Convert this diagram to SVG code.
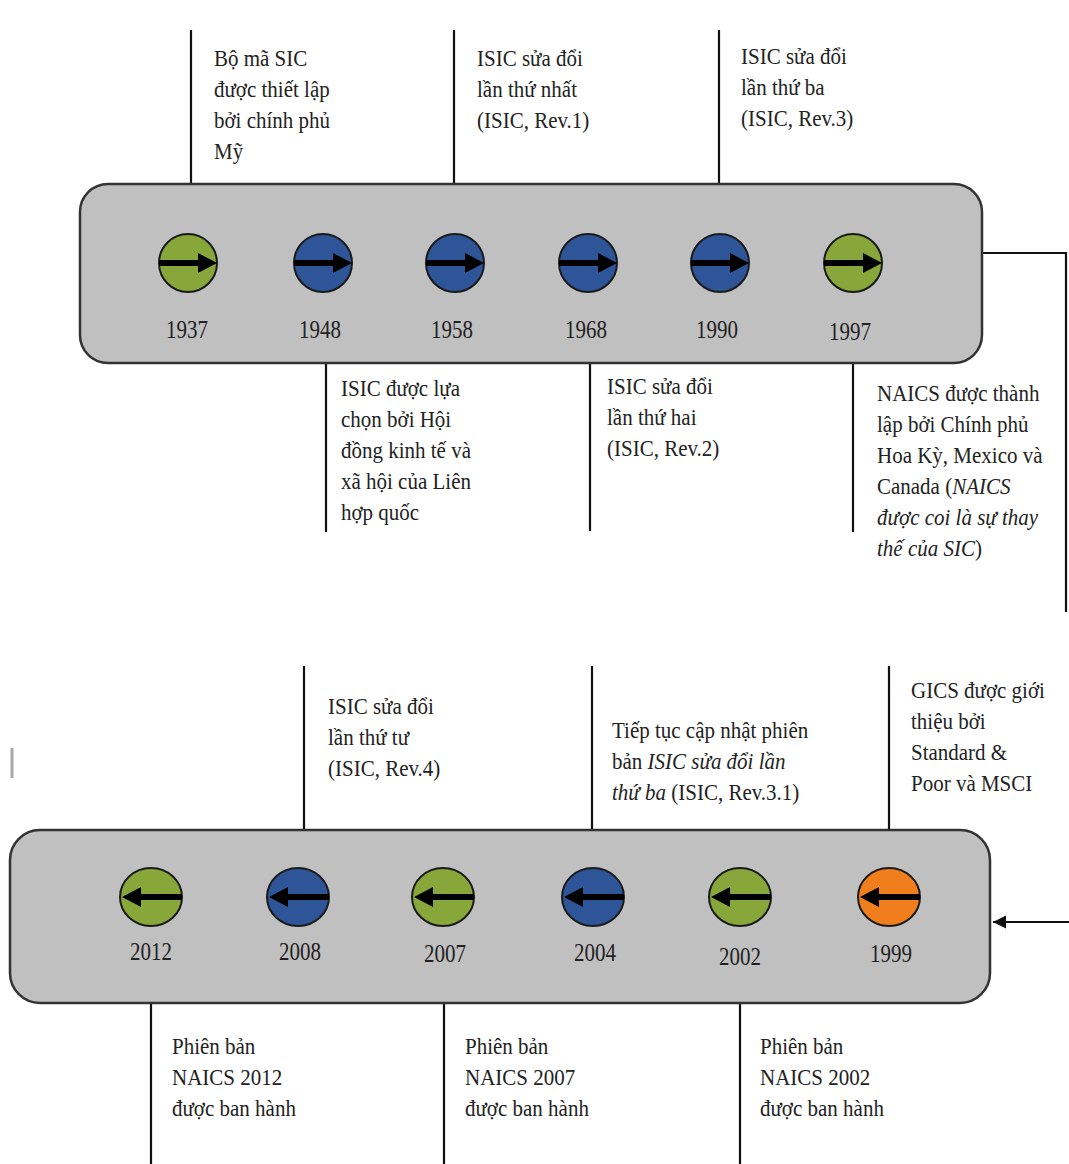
<svg xmlns="http://www.w3.org/2000/svg" width="1069" height="1164" viewBox="0 0 1069 1164">
<style>
.bg{fill:#ffffff}
.box{fill:#c0c0c0;stroke:#333333;stroke-width:2.5}
.ln{stroke:#111111;stroke-width:2.2;fill:none}
.t{font-family:"Liberation Serif","Times New Roman",serif;font-size:21px;fill:#222222}
.yr{font-family:"Liberation Serif","Times New Roman",serif;font-size:21px;fill:#222222;text-anchor:middle}
.i{font-style:italic}
.g{fill:#87a73b;stroke:#1a1a1a;stroke-width:2}
.b{fill:#2e5597;stroke:#1a1a1a;stroke-width:2}
.o{fill:#f07e1c;stroke:#1a1a1a;stroke-width:2}
</style>
<defs>
<g id="arrR"><rect x="-29" y="-3" width="42" height="6" fill="#000"/><polygon points="10,-10 29,0 10,10" fill="#000"/></g>
<g id="arrL"><rect x="-14" y="-3" width="45" height="6" fill="#000"/><polygon points="-10,-10 -29,0 -10,10" fill="#000"/></g>
<marker id="ah" viewBox="0 0 10 10" refX="10" refY="5" markerWidth="6" markerHeight="6" orient="auto-start-reverse"><path d="M0,0 L10,5 L0,10 z" fill="#111"/></marker>
</defs>
<rect class="bg" x="0" y="0" width="1069" height="1164"/>

<g id="connectors">
<line class="ln" x1="191" y1="30" x2="191" y2="184"/>
<line class="ln" x1="454" y1="30" x2="454" y2="184"/>
<line class="ln" x1="719" y1="30" x2="719" y2="184"/>
<line class="ln" x1="326" y1="363" x2="326" y2="532"/>
<line class="ln" x1="590" y1="363" x2="590" y2="531"/>
<line class="ln" x1="853" y1="363" x2="853" y2="532"/>
<polyline class="ln" points="982,253 1066,253 1066,612"/>
<line class="ln" x1="1069" y1="922" x2="993" y2="922" marker-end="url(#ah)"/>
<line class="ln" x1="304" y1="666" x2="304" y2="830"/>
<line class="ln" x1="592" y1="666" x2="592" y2="830"/>
<line class="ln" x1="889" y1="666" x2="889" y2="830"/>
<line class="ln" x1="151" y1="1003" x2="151" y2="1164"/>
<line class="ln" x1="444" y1="1003" x2="444" y2="1164"/>
<line class="ln" x1="740" y1="1003" x2="740" y2="1164"/>
</g>

<rect x="10.5" y="748" width="3" height="30" fill="#a8a8a8"/>

<g id="timeline-top">
<rect class="box" x="80" y="184" width="902" height="179" rx="28"/>
</g>
<g id="timeline-bottom">
<rect class="box" x="10" y="830" width="980" height="173" rx="30"/>
</g>

<g id="n1937"><circle class="g" cx="188" cy="263" r="29"/><use href="#arrR" x="188" y="263"/><text class="yr" transform="translate(187 338) scale(1 1.15)">1937</text></g>
<g id="n1948"><circle class="b" cx="323" cy="263" r="29"/><use href="#arrR" x="323" y="263"/><text class="yr" transform="translate(320 338) scale(1 1.15)">1948</text></g>
<g id="n1958"><circle class="b" cx="455" cy="263" r="29"/><use href="#arrR" x="455" y="263"/><text class="yr" transform="translate(452 338) scale(1 1.15)">1958</text></g>
<g id="n1968"><circle class="b" cx="588" cy="263" r="29"/><use href="#arrR" x="588" y="263"/><text class="yr" transform="translate(586 338) scale(1 1.15)">1968</text></g>
<g id="n1990"><circle class="b" cx="720" cy="263" r="29"/><use href="#arrR" x="720" y="263"/><text class="yr" transform="translate(717 338) scale(1 1.15)">1990</text></g>
<g id="n1997"><circle class="g" cx="853" cy="263" r="29"/><use href="#arrR" x="853" y="263"/><text class="yr" transform="translate(850 340) scale(1 1.15)">1997</text></g>

<g id="n2012"><ellipse class="g" cx="151" cy="897" rx="31" ry="29"/><use href="#arrL" x="151" y="897"/><text class="yr" transform="translate(151 960) scale(1 1.15)">2012</text></g>
<g id="n2008"><ellipse class="b" cx="298" cy="897" rx="31" ry="29"/><use href="#arrL" x="298" y="897"/><text class="yr" transform="translate(300 960) scale(1 1.15)">2008</text></g>
<g id="n2007"><ellipse class="g" cx="443" cy="897" rx="31" ry="29"/><use href="#arrL" x="443" y="897"/><text class="yr" transform="translate(445 962) scale(1 1.15)">2007</text></g>
<g id="n2004"><ellipse class="b" cx="593" cy="897" rx="31" ry="29"/><use href="#arrL" x="593" y="897"/><text class="yr" transform="translate(595 961) scale(1 1.15)">2004</text></g>
<g id="n2002"><ellipse class="g" cx="740" cy="897" rx="31" ry="29"/><use href="#arrL" x="740" y="897"/><text class="yr" transform="translate(740 965) scale(1 1.15)">2002</text></g>
<g id="n1999"><ellipse class="o" cx="889" cy="897" rx="31" ry="29"/><use href="#arrL" x="889" y="897"/><text class="yr" transform="translate(891 962) scale(1 1.15)">1999</text></g>

<g id="l1937"><text class="t" transform="translate(214 66) scale(1 1.12)"><tspan x="0" y="0">Bộ mã SIC</tspan><tspan x="0" dy="27.7">được thiết lập</tspan><tspan x="0" dy="27.7">bởi chính phủ</tspan><tspan x="0" dy="27.7">Mỹ</tspan></text></g>
<g id="l1958"><text class="t" transform="translate(477 66) scale(1 1.12)"><tspan x="0" y="0">ISIC sửa đổi</tspan><tspan x="0" dy="27.7">lần thứ nhất</tspan><tspan x="0" dy="27.7">(ISIC, Rev.1)</tspan></text></g>
<g id="l1990"><text class="t" transform="translate(741 64) scale(1 1.12)"><tspan x="0" y="0">ISIC sửa đổi</tspan><tspan x="0" dy="27.7">lần thứ ba</tspan><tspan x="0" dy="27.7">(ISIC, Rev.3)</tspan></text></g>
<g id="l1948"><text class="t" transform="translate(341 396) scale(1 1.12)"><tspan x="0" y="0">ISIC được lựa</tspan><tspan x="0" dy="27.7">chọn bởi Hội</tspan><tspan x="0" dy="27.7">đồng kinh tế và</tspan><tspan x="0" dy="27.7">xã hội của Liên</tspan><tspan x="0" dy="27.7">hợp quốc</tspan></text></g>
<g id="l1968"><text class="t" transform="translate(607 394) scale(1 1.12)"><tspan x="0" y="0">ISIC sửa đổi</tspan><tspan x="0" dy="27.7">lần thứ hai</tspan><tspan x="0" dy="27.7">(ISIC, Rev.2)</tspan></text></g>
<g id="l1997"><text class="t" transform="translate(877 401) scale(1 1.12)"><tspan x="0" y="0">NAICS được thành</tspan><tspan x="0" dy="27.7">lập bởi Chính phủ</tspan><tspan x="0" dy="27.7">Hoa Kỳ, Mexico và</tspan><tspan x="0" dy="27.7">Canada (<tspan class="i">NAICS</tspan></tspan><tspan x="0" dy="27.7" class="i">được coi là sự thay</tspan><tspan x="0" dy="27.7"><tspan class="i">thế của SIC</tspan>)</tspan></text></g>

<g id="l2008"><text class="t" transform="translate(328 714) scale(1 1.12)"><tspan x="0" y="0">ISIC sửa đổi</tspan><tspan x="0" dy="27.7">lần thứ tư</tspan><tspan x="0" dy="27.7">(ISIC, Rev.4)</tspan></text></g>
<g id="l2004"><text class="t" transform="translate(612 738) scale(1 1.12)"><tspan x="0" y="0">Tiếp tục cập nhật phiên</tspan><tspan x="0" dy="27.7">bản <tspan class="i">ISIC sửa đổi lần</tspan></tspan><tspan x="0" dy="27.7"><tspan class="i">thứ ba</tspan> (ISIC, Rev.3.1)</tspan></text></g>
<g id="l1999"><text class="t" transform="translate(911 698) scale(1 1.12)"><tspan x="0" y="0">GICS được giới</tspan><tspan x="0" dy="27.7">thiệu bởi</tspan><tspan x="0" dy="27.7">Standard &amp;</tspan><tspan x="0" dy="27.7">Poor và MSCI</tspan></text></g>

<g id="l2012"><text class="t" transform="translate(172 1054) scale(1 1.12)"><tspan x="0" y="0">Phiên bản</tspan><tspan x="0" dy="27.7">NAICS 2012</tspan><tspan x="0" dy="27.7">được ban hành</tspan></text></g>
<g id="l2007"><text class="t" transform="translate(465 1054) scale(1 1.12)"><tspan x="0" y="0">Phiên bản</tspan><tspan x="0" dy="27.7">NAICS 2007</tspan><tspan x="0" dy="27.7">được ban hành</tspan></text></g>
<g id="l2002"><text class="t" transform="translate(760 1054) scale(1 1.12)"><tspan x="0" y="0">Phiên bản</tspan><tspan x="0" dy="27.7">NAICS 2002</tspan><tspan x="0" dy="27.7">được ban hành</tspan></text></g>
</svg>
